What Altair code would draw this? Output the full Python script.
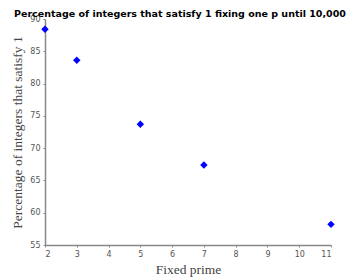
import altair as alt
import pandas as pd

primes = [2, 3, 5, 7, 11]
percentages = [88.4, 83.6, 73.7, 67.4, 58.2]

df = pd.DataFrame({"p": primes, "pct": percentages})

chart = alt.Chart(df).mark_point(
    shape="diamond", filled=True, color="#0000ff", size=55, opacity=1
).encode(
    x=alt.X("p:Q", scale=alt.Scale(domain=[2, 11], nice=False, zero=False),
            axis=alt.Axis(title="Fixed prime", values=list(range(2, 12)), grid=False,
                          tickSize=2, labelPadding=3, titlePadding=4)),
    y=alt.Y("pct:Q", scale=alt.Scale(domain=[55, 90], nice=False, zero=False),
            axis=alt.Axis(title="Percentage of integers that satisfy 1", values=list(range(55, 91, 5)),
                          grid=False, tickSize=2, labelPadding=3, titlePadding=5)),
).properties(
    width=286, height=226,
    autosize=alt.AutoSizeParams(type="none"),
    padding={"left": 37, "top": 11, "right": 25, "bottom": 33},
    title=alt.TitleParams(
        "Percentage of integers that satisfy 1 fixing one p until 10,000",
        anchor="start", dx=-31, dy=4, offset=1, fontSize=9.5, font="DejaVu Sans",
        fontWeight="bold", color="#000000", frame="group",
    ),
).configure_view(stroke=None).configure_axis(
    domainColor="#888888", domainWidth=1.5, tickColor="#888888",
    labelColor="#555555", labelFont="DejaVu Sans", labelFontSize=8,
    titleFont="Liberation Serif", titleFontSize=13.5, titleFontWeight="normal",
    titleColor="#444444",
)

chart.save("out.html", embed_options={"renderer": "svg", "actions": False})
